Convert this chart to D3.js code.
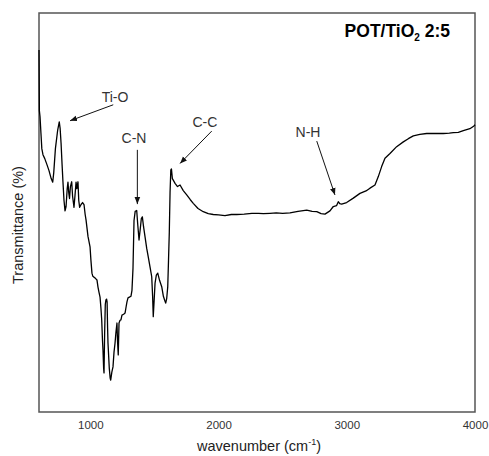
<!DOCTYPE html>
<html><head><meta charset="utf-8">
<script src="https://cdn.jsdelivr.net/npm/d3@7"></script>
<style>body{margin:0;background:#fff} text{font-family:"Liberation Sans",Arial,sans-serif}</style>
</head><body><svg id="c" width="489" height="456"></svg>
<script>
const wavenumbers = [600,603,608,615,622,631,645,662,678,695,707,715,728,745,758,765,772,780,787,795,803,811,820,826,832,838,845,855,862,873,880,889,895,904,910,917,928,940,951,960,967,982,998,1005,1013,1020,1029,1040,1052,1060,1068,1076,1083,1089,1095,1099,1104,1107,1112,1117,1122,1127,1131,1135,1138,1148,1155,1159,1168,1177,1185,1193,1200,1208,1212,1218,1224,1232,1239,1247,1260,1271,1280,1286,1294,1305,1317,1325,1333,1341,1350,1362,1370,1380,1390,1398,1406,1415,1427,1440,1452,1465,1479,1486,1491,1498,1505,1515,1526,1540,1557,1570,1580,1588,1596,1604,1610,1616,1622,1628,1633,1640,1647,1661,1680,1700,1725,1752,1780,1803,1840,1881,1920,1959,2000,2050,2100,2142,2200,2260,2312,2350,2401,2450,2500,2557,2620,2688,2730,2766,2800,2830,2869,2895,2920,2934,2945,2960,2999,3051,3103,3150,3181,3220,3246,3272,3298,3337,3389,3441,3480,3519,3570,3623,3700,3753,3800,3831,3870,3909,3960,3992,4000];
const transmittance = [90.7,75.5,74,70,66,64.5,63.5,62,60.5,58.5,57.6,60,66,70.5,72.7,71,67.4,62,57.6,53,50.4,51.5,56,57.6,55,53.5,56.5,57.7,54,51.3,54,57.6,56,57.7,53,51.3,52.0,52.5,52.0,49.5,48.1,44,41.4,38,34.8,34,33.8,33.5,33.1,31.3,30,28.8,26,23.1,18,15.5,11,9.8,20,27,28.1,28.3,27.6,21,17.3,11,8.5,8.0,10,11.3,15,17.3,20,22.3,18,14.3,22.3,23,23.1,24.3,24.5,24.8,26.5,27.6,28.6,28.8,29.0,30.5,36,48,50.3,50.5,47,43.1,46,48.5,48.9,46.5,43.9,41,38.9,36.5,33.9,29,23.9,28,32.3,34.3,34.8,33,31.4,29,28,27.3,28.5,31.4,38,44.9,55,60.7,60.9,58.5,58.1,57.3,56.5,56.9,55.5,54.4,53.2,52.3,51.0,50.2,49.7,49.5,49.4,49.2,49.5,49.5,49.6,49.8,49.8,49.7,49.8,49.9,49.8,49.9,50.3,50.6,50.3,50.2,49.7,49.6,50.4,51.5,51.7,52.7,52.2,52.1,52.5,53.6,54.8,55.4,56.1,56.9,59.0,61.5,63.6,64.8,66.5,67.7,68.5,69.2,69.6,69.8,69.8,69.8,69.9,70.0,70.1,70.5,71.0,71.7,72.0];
const xTicks = [1000,2000,3000,4000];
const bandLabels = ["Ti-O","C-N","C-C","N-H"];

const W = 489, H = 456;
const margin = {left:39, top:13, right:14, bottom:44};
const svg = d3.select("#c");
const x = d3.scaleLinear().domain([600,4000]).range([margin.left, W - margin.right]);
const y = d3.scaleLinear().domain([0,100]).range([H - margin.bottom, margin.top]);

// frame
svg.append("rect").attr("x", margin.left).attr("y", margin.top)
  .attr("width", W - margin.left - margin.right).attr("height", H - margin.top - margin.bottom)
  .attr("fill","none").attr("stroke","#555").attr("stroke-width",1.5);

// x axis
const ax = svg.append("g").attr("transform",`translate(0,${H - margin.bottom})`)
  .call(d3.axisBottom(x).tickValues(xTicks).tickSize(0).tickPadding(9).tickFormat(d3.format("d")));
ax.select(".domain").remove();
ax.selectAll("text").attr("font-size",11.5).attr("fill","#333").attr("font-family",'"Liberation Sans",Arial,sans-serif');

// axis titles
const xt = svg.append("text").attr("x", 259).attr("y", 451).attr("text-anchor","middle")
  .attr("font-size",14.5).attr("fill","#222");
xt.append("tspan").text("wavenumber (cm");
xt.append("tspan").attr("font-size",9).attr("dy",-6).text("-1");
xt.append("tspan").attr("dy",6).text(")");

svg.append("text").attr("transform","translate(23,225) rotate(-90)").attr("text-anchor","middle")
  .attr("font-size",14.5).attr("fill","#222").text("Transmittance (%)");

// curve
const pts = wavenumbers.map((w,i)=>[w, transmittance[i]]);
svg.append("path").datum(pts)
  .attr("d", d3.line().x(d=>x(d[0])).y(d=>y(d[1])))
  .attr("fill","none").attr("stroke","#000").attr("stroke-width",1.3).attr("stroke-linejoin","round");

// title
const tt = svg.append("text").attr("x", 450).attr("y", 37).attr("text-anchor","end")
  .attr("font-size",17.5).attr("font-weight","bold").attr("fill","#000");
tt.append("tspan").text("POT/TiO");
tt.append("tspan").attr("font-size",10).attr("dy",4).text("2");
tt.append("tspan").attr("dy",-4).text(" 2:5");

// arrow marker
svg.append("defs").append("marker").attr("id","ah").attr("viewBox","0 0 10 10")
  .attr("refX",10).attr("refY",5).attr("markerWidth",7).attr("markerHeight",7)
  .attr("markerUnits","userSpaceOnUse").attr("orient","auto")
  .append("path").attr("d","M0,1 L10,5 L0,9 Z").attr("fill","#111");

// annotations: label anchor (wavenumber, T) and arrow from/to in data coords
const annPos = [
  {t:[1193,77.7], a:[1179,77.0], b:[842,73.0]},
  {t:[1341,67.4], a:[1367,65.7], b:[1367,52.1]},
  {t:[1894,71.4], a:[1947,70.4], b:[1700,62.3]},
  {t:[2698,68.9], a:[2766,67.9], b:[2908,54.4]}
];
bandLabels.forEach((lab,i)=>{
  const p = annPos[i];
  svg.append("text").attr("x", x(p.t[0])).attr("y", y(p.t[1])).attr("text-anchor","middle")
    .attr("font-size",14).attr("fill","#333").text(lab);
  svg.append("line").attr("x1",x(p.a[0])).attr("y1",y(p.a[1])).attr("x2",x(p.b[0])).attr("y2",y(p.b[1]))
    .attr("stroke","#111").attr("stroke-width",1).attr("marker-end","url(#ah)");
});
</script></body></html>
